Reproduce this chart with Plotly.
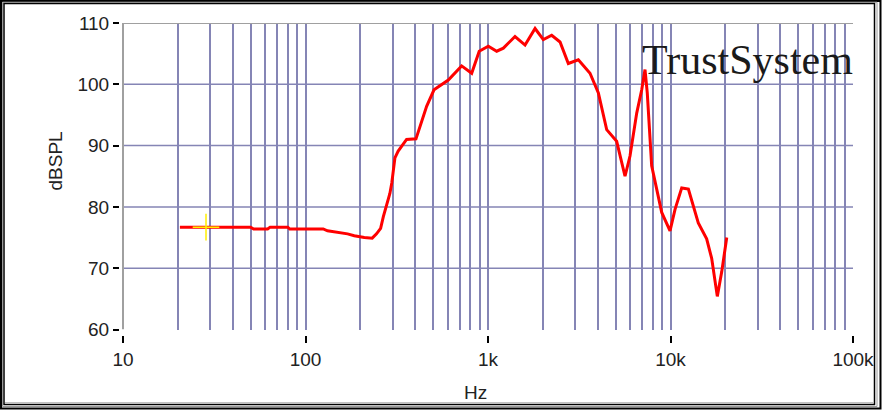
import plotly.graph_objects as go

# ---- data ----
freq_hz = [20.5, 28.5, 50, 52, 62, 64, 80, 82, 125, 132, 150, 170, 185, 210, 232, 245, 258,
           267, 290, 297, 309, 322, 358, 403, 461, 506, 606, 717, 814, 895, 1004, 1116, 1214,
           1406, 1596, 1811, 2010, 2234, 2482, 2755, 3126, 3622, 4025, 4470, 5070, 5634, 5999,
           6530, 6955, 7250, 7460, 7886, 8950, 9940, 10590, 11520, 12530, 14200, 15780, 16810,
           18050, 19080, 20330]
spl_db = [76.7, 76.7, 76.7, 76.4, 76.4, 76.7, 76.7, 76.4, 76.4, 76.1, 75.9, 75.6, 75.3, 75.0,
          74.9, 75.6, 76.5, 78.4, 82.2, 83.9, 88.0, 89.1, 91.0, 91.1, 96.4, 99.1, 100.7, 103.0,
          101.8, 105.4, 106.2, 105.4, 105.9, 107.8, 106.4, 109.1, 107.3, 108.0, 106.9, 103.4,
          104.0, 101.8, 98.6, 92.6, 90.7, 85.0, 88.3, 95.3, 99.1, 102.4, 98.6, 86.7, 79.1, 76.1,
          79.6, 83.1, 82.9, 77.4, 74.8, 71.6, 65.4, 69.4, 75.0]
cursor_hz = [28.5]
cursor_db = [76.7]

x_tick_vals = [10, 100, 1000, 10000, 100000]
x_tick_text = ["10", "100", "1k", "10k", "100k"]
y_tick_vals = [60, 70, 80, 90, 100, 110]
y_grid_vals = [70, 80, 90, 100]
grid_hz = [m * 10 ** e for e in range(1, 5) for m in range(1, 10) if not (e == 1 and m == 1)]

W, H = 882, 410
ML, MR, MT, MB = 100, 29, 23, 60
PW, PH = W - ML - MR, H - MT - MB


def px(p):
    return (p - ML) / PW


def py(q):
    return (H - MB - q) / PH


x_dom0 = px(123)
y_dom0 = py(329.5)
GRID = "#8585b5"

fig = go.Figure()
fig.add_trace(go.Scatter(x=freq_hz, y=spl_db, mode="lines",
                         line=dict(color="#ff0000", width=3), hoverinfo="skip"))
fig.add_trace(go.Scatter(x=cursor_hz, y=cursor_db, mode="markers",
                         marker=dict(symbol="cross-thin", size=19,
                                     line=dict(color="#ffee00", width=1.5)),
                         hoverinfo="skip"))
fig.add_trace(go.Scatter(x=x_tick_vals, y=[85] * len(x_tick_vals), xaxis="x2", mode="markers",
                         marker=dict(opacity=0), hoverinfo="skip"))

shapes = []
for v in y_grid_vals:
    shapes.append(dict(type="line", xref="paper", yref="y", x0=x_dom0, x1=1, y0=v, y1=v,
                       line=dict(color=GRID, width=1.5), layer="below"))
# plot top and left border (gray)
shapes.append(dict(type="line", xref="paper", yref="y", x0=x_dom0, x1=1, y0=110, y1=110,
                   line=dict(color="#a0a0a0", width=2), layer="above"))
shapes.append(dict(type="line", xref="paper", yref="y", x0=x_dom0, x1=x_dom0, y0=60, y1=110,
                   line=dict(color="#a0a0a0", width=2), layer="above"))
# outer window frame
shapes.append(dict(type="rect", xref="paper", yref="paper", x0=px(1), x1=px(880.5),
                   y0=py(408.5), y1=py(1), line=dict(color="#000000", width=2), layer="above"))
shapes.append(dict(type="rect", xref="paper", yref="paper", x0=px(2.5), x1=px(877),
                   y0=py(406.5), y1=py(2.2), line=dict(color="#9a9a9a", width=1), layer="above"))
shapes.append(dict(type="rect", xref="paper", yref="paper", x0=px(4), x1=px(874.5),
                   y0=py(404.5), y1=py(3.5), line=dict(color="#000000", width=1.5), layer="above"))
shapes.append(dict(type="line", xref="paper", yref="paper", x0=px(5), x1=px(873.5),
                   y0=py(402.5), y1=py(402.5), line=dict(color="#c0c0c0", width=1), layer="above"))

annotations = [
    dict(text="TrustSystem", xref="paper", yref="paper", x=px(640), y=py(60), xanchor="left",
         yanchor="middle", showarrow=False,
         font=dict(family="Liberation Serif", size=42, color="#1a1a1a")),
    dict(text="Hz", xref="paper", yref="paper", x=px(475.5), y=py(392), xanchor="center",
         yanchor="middle", showarrow=False,
         font=dict(family="Liberation Sans", size=19, color="#222222")),
    dict(text="dBSPL", xref="paper", yref="paper", x=px(54.5), y=py(161), xanchor="center",
         yanchor="middle", showarrow=False, textangle=-90,
         font=dict(family="Liberation Sans", size=19, color="#222222")),
]

fig.update_layout(
    width=W, height=H, margin=dict(l=ML, r=MR, t=MT, b=MB, autoexpand=False),
    paper_bgcolor="white", plot_bgcolor="white", showlegend=False,
    font=dict(family="Liberation Sans", size=19, color="#222222"),
    xaxis=dict(type="log", range=[1, 5], domain=[x_dom0, 1], tickvals=grid_hz,
               showticklabels=False, ticks="", showgrid=True, gridcolor=GRID, gridwidth=1.5,
               showline=False, zeroline=False, fixedrange=True, automargin=False),
    xaxis2=dict(type="log", range=[1, 5], domain=[x_dom0, 1], overlaying="x", anchor="free",
                position=py(335), tickvals=x_tick_vals, ticktext=x_tick_text, ticks="outside",
                ticklen=7, tickwidth=1.5, tickcolor="#000000", showgrid=False, showline=False,
                zeroline=False, fixedrange=True, automargin=False),
    yaxis=dict(range=[60, 110], domain=[y_dom0, 1], anchor="free", position=px(119),
               tickvals=y_tick_vals, ticks="outside", ticklen=6, tickwidth=1.5,
               tickcolor="#000000", showgrid=False, showline=False, zeroline=False,
               fixedrange=True, automargin=False),
    shapes=shapes, annotations=annotations,
)

fig.write_html("out.html", config={"displayModeBar": False},
               post_script="document.body.style.margin='0';document.body.style.padding='0';")
